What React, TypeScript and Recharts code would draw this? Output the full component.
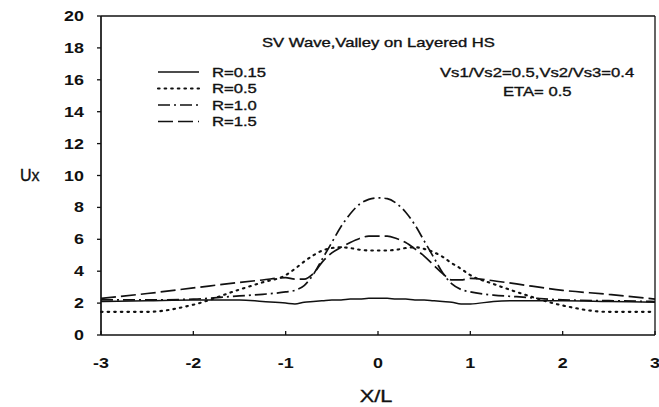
import React from 'react';
import { LineChart, Line, XAxis, YAxis, ReferenceLine } from 'recharts';

// X/L positions
const xs = [
  -3, -2.5, -2, -1.5, -1.25, -1, -0.9, -0.8, -0.7, -0.6, -0.5, -0.4, -0.3, -0.2, -0.1, 0,
  0.1, 0.2, 0.3, 0.4, 0.5, 0.6, 0.7, 0.8, 0.9, 1, 1.25, 1.5, 2, 2.5, 3,
];

// Ux for each R
const r015 = [
  2.1, 2.15, 2.2, 2.2, 2.1, 2.0, 1.95, 2.05, 2.1, 2.15, 2.2, 2.2, 2.25, 2.25, 2.3, 2.3,
  2.3, 2.25, 2.25, 2.2, 2.2, 2.15, 2.1, 2.05, 1.95, 1.95, 2.1, 2.15, 2.15, 2.1, 2.05,
];
const r05 = [
  1.45, 1.45, 1.9, 2.85, 3.3, 3.75, 4.15, 4.6, 5.0, 5.3, 5.45, 5.5, 5.45, 5.35, 5.3, 5.3,
  5.3, 5.35, 5.45, 5.5, 5.4, 5.2, 4.9, 4.5, 4.15, 3.75, 3.2, 2.7, 1.85, 1.45, 1.45,
];
const r10 = [
  2.2, 2.2, 2.25, 2.45, 2.55, 2.7, 2.8, 3.1, 3.8, 4.8, 5.8, 6.8, 7.6, 8.2, 8.5, 8.6,
  8.55, 8.25, 7.7, 6.9, 5.9, 4.9, 3.9, 3.2, 2.85, 2.7, 2.5, 2.4, 2.2, 2.15, 2.1,
];
const r15 = [
  2.3, 2.6, 2.95, 3.3, 3.45, 3.6, 3.5, 3.5, 3.85, 4.6, 5.15, 5.5, 5.8, 6.05, 6.2, 6.2,
  6.2, 6.05, 5.8, 5.4, 4.95, 4.4, 3.85, 3.45, 3.45, 3.55, 3.4, 3.2, 2.8, 2.55, 2.25,
];

const xTicks = [-3, -2, -1, 0, 1, 2, 3];
const yTicks = [0, 2, 4, 6, 8, 10, 12, 14, 16, 18, 20];

const series = [
  { key: 'r015', name: 'R=0.15', dash: undefined, width: 1.5, cap: 'butt' },
  { key: 'r05', name: 'R=0.5', dash: '1.6 5', width: 2.1, cap: 'round' },
  { key: 'r10', name: 'R=1.0', dash: '12 4 2 4', width: 1.7, cap: 'butt' },
  { key: 'r15', name: 'R=1.5', dash: '15 5', width: 1.7, cap: 'butt' },
];

const data = xs.map((x, i) => ({ x, r015: r015[i], r05: r05[i], r10: r10[i], r15: r15[i] }));

const FONT = '"Liberation Sans", Arial, sans-serif';
const SX = 1.28;

const Txt = ({ x, y, size, bold, anchor, sx, children }: any) => (
  <text
    transform={`translate(${x},${y}) scale(${sx ?? SX},1)`}
    fontSize={size}
    fontFamily={FONT}
    fontWeight={bold ? 'bold' : 'normal'}
    textAnchor={anchor ?? 'start'}
    fill="#111"
    stroke="#111"
    strokeWidth={bold ? 0 : 0.35}
  >
    {children}
  </text>
);

const YTick = ({ x, y, payload }: any) => (
  <Txt x={x} y={y + 5} size={14} bold anchor="end">
    {payload.value}
  </Txt>
);

const XTick = ({ x, y, payload }: any) => (
  <g>
    <line x1={x} x2={x} y1={y - 28} y2={y - 32} stroke="#111" strokeWidth={1.3} />
    <Txt x={x} y={y + 5} size={14} bold anchor="middle">
      {payload.value}
    </Txt>
  </g>
);

export default function App() {
  return (
    <div style={{ position: 'absolute', left: 0, top: 0, width: 659, height: 407, background: '#fff' }}>
      <LineChart
        width={659}
        height={407}
        data={data}
        margin={{ top: 16, right: 4, bottom: 0, left: 0 }}
      >
        <XAxis
          dataKey="x"
          type="number"
          domain={[-3, 3]}
          ticks={xTicks}
          height={72}
          tickSize={0}
          tickMargin={28}
          tick={<XTick />}
          axisLine={{ stroke: '#111', strokeWidth: 1.7 }}
        />
        <YAxis
          type="number"
          domain={[0, 20]}
          ticks={yTicks}
          width={101}
          tickSize={4}
          tickMargin={13}
          tick={<YTick />}
          tickLine={{ stroke: '#111', strokeWidth: 1.3 }}
          axisLine={{ stroke: '#111', strokeWidth: 1.7 }}
        />
        <ReferenceLine y={20} stroke="#111" strokeWidth={1.3} />
        <ReferenceLine x={3} stroke="#111" strokeWidth={1.3} />
        {series.map((s) => (
          <Line
            key={s.key}
            type="monotone"
            dataKey={s.key}
            name={s.name}
            stroke="#111"
            strokeWidth={s.width}
            strokeDasharray={s.dash}
            strokeLinecap={s.cap as any}
            dot={false}
            activeDot={false}
            isAnimationActive={false}
          />
        ))}
      </LineChart>
      <svg
        width={659}
        height={407}
        style={{ position: 'absolute', left: 0, top: 0, pointerEvents: 'none' }}
      >
        <Txt x={262} y={46.5} size={13}>SV Wave,Valley on Layered HS</Txt>
        <Txt x={440} y={76.5} size={13}>Vs1/Vs2=0.5,Vs2/Vs3=0.4</Txt>
        <Txt x={503} y={96} size={13}>ETA= 0.5</Txt>
        {series.map((s, i) => {
          const cy = 72 + 16.5 * i;
          return (
            <g key={s.key}>
              <line
                x1={158}
                x2={199}
                y1={cy}
                y2={cy}
                stroke="#111"
                strokeWidth={s.width}
                strokeDasharray={s.dash}
                strokeLinecap={s.cap as any}
              />
              <Txt x={212} y={cy + 4.6} size={13}>{s.name}</Txt>
            </g>
          );
        })}
        <Txt x={20} y={181} size={16} sx={1}>Ux</Txt>
        <Txt x={376} y={402} size={17} anchor="middle">X/L</Txt>
      </svg>
    </div>
  );
}
